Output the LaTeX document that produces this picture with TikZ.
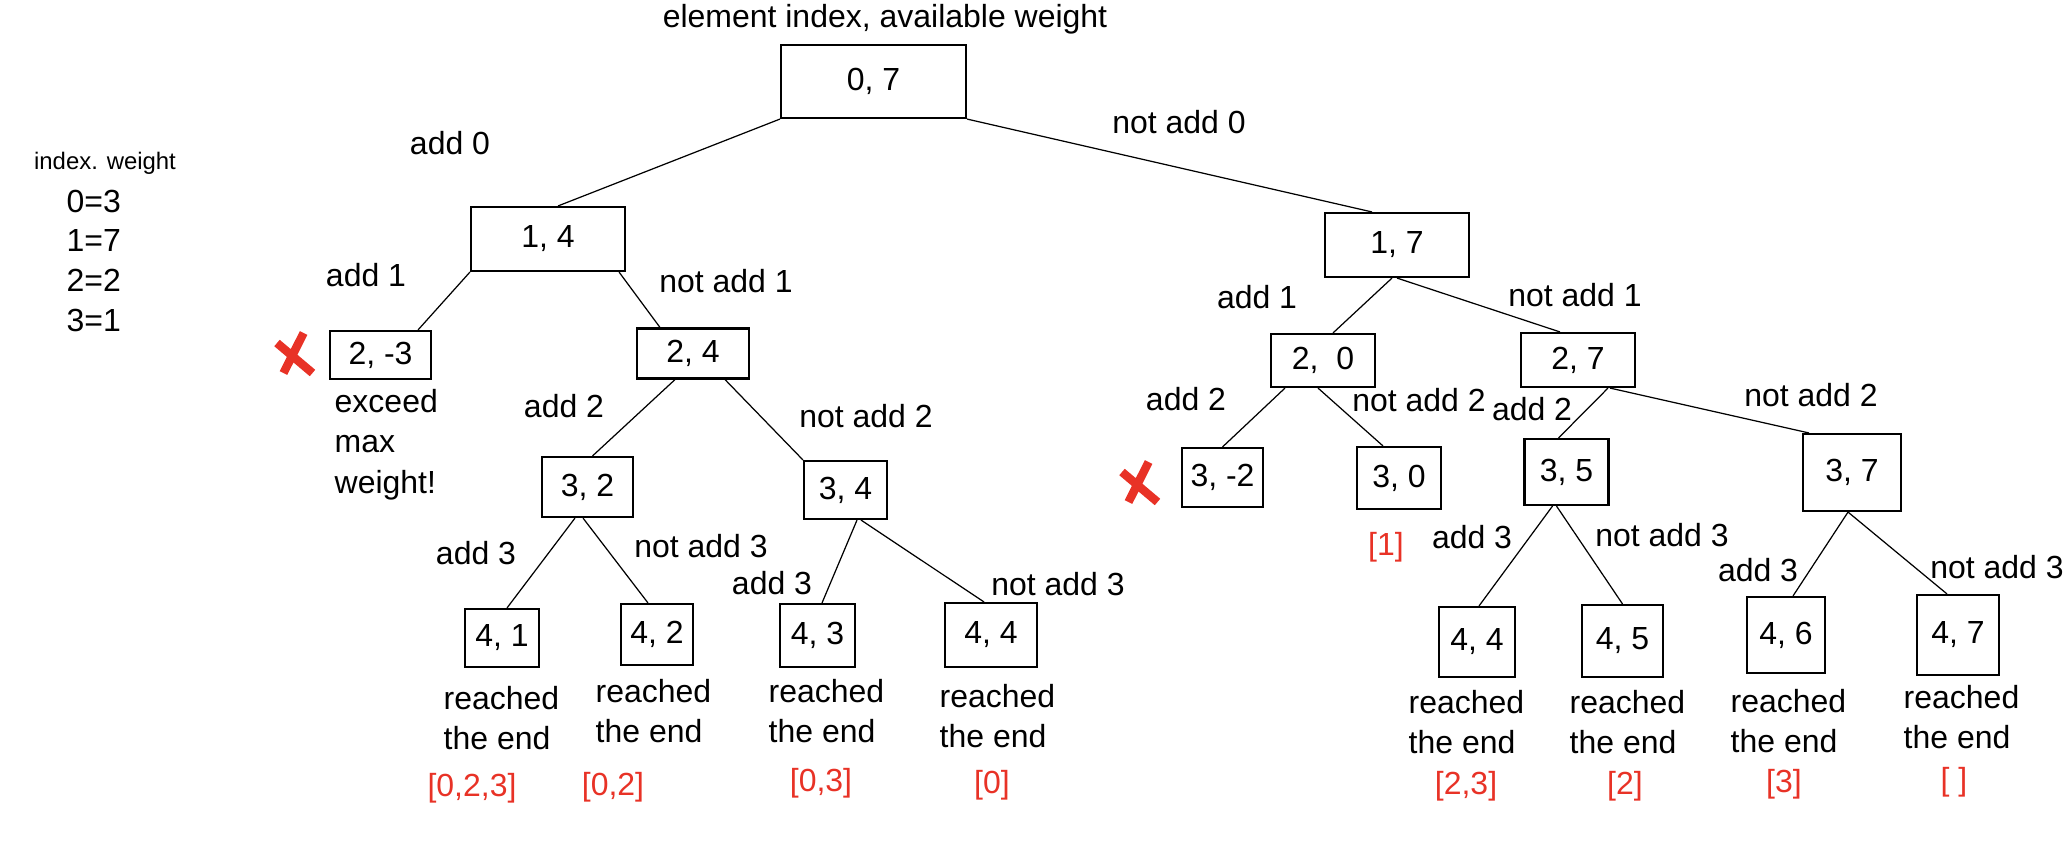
\documentclass[tikz,border=0pt]{standalone}
\usepackage{fontspec}
\setmainfont{Liberation Sans}
\definecolor{markred}{RGB}{232,50,38}

\begin{document}
\begin{tikzpicture}[every node/.style={font=\fontsize{9.1}{11.4}\selectfont, inner sep=0pt},
	statebox/.style 2 args={draw, line width=0.6pt, minimum width=#1cm, minimum height=#2cm},
	branch/.style={line width=0.35pt},
	result/.style={text=markred},
	endnote/.style={align=left, anchor=north west},
	failmark/.pic={\draw[markred, line width=2.4pt] (0.086,0.22) -- (-0.115,-0.18) (-0.18,0.12) -- (0.175,-0.18);}]
	\useasboundingbox (0,0) rectangle (20.64,-8.42);
	\node (title) at (8.85,-0.19) {element index, available weight};
	\node[font=\fontsize{6.8}{8}\selectfont] (legend) at (1.05,-1.63) {index. weight};
	\foreach \i/\w [count=\k] in {0/3,1/7,2/2,3/1} {\node[anchor=west] (w\i) at (0.66,{-2.01-0.397*(\k-1)}) {\i=\w};}
	\node[statebox={1.85}{0.73}] (s07) at (8.735,-0.815) {0, 7};
	\node[statebox={1.54}{0.64}] (s14) at (5.48,-2.39) {1, 4\hspace{5mm}};
	\node[statebox={1.44}{0.64}] (s17) at (13.97,-2.45) {1, 7\hspace{3.4mm}};
	\node[statebox={1.01}{0.48}] (s2neg3) at (3.805,-3.55) {2, -3};
	\node[statebox={1.12}{0.50}] (s24) at (6.93,-3.535) {2, 4\hspace{1.2mm}};
	\node[statebox={1.04}{0.53}] (s20) at (13.23,-3.605) {2,\ \ 0\hspace{1.4mm}};
	\node[statebox={1.14}{0.54}] (s27) at (15.78,-3.60) {2, 7\hspace{3.4mm}};
	\node[statebox={0.91}{0.60}] (s32) at (5.875,-4.87) {3, 2};
	\node[statebox={0.83}{0.58}] (s34) at (8.455,-4.90) {3, 4};
	\node[statebox={0.81}{0.59}] (s3neg2) at (12.225,-4.775) {3, -2\hspace{1.2mm}};
	\node[statebox={0.84}{0.62}] (s30) at (13.99,-4.78) {3, 0};
	\node[statebox={0.84}{0.66}] (s35) at (15.665,-4.72) {3, 5};
	\node[statebox={0.98}{0.77}] (s37) at (18.52,-4.725) {3, 7};
	\node[statebox={0.74}{0.58}] (s41) at (5.02,-6.38) {4, 1};
	\node[statebox={0.72}{0.61}] (s42) at (6.57,-6.345) {4, 2};
	\node[statebox={0.75}{0.63}] (s43) at (8.175,-6.355) {4, 3};
	\node[statebox={0.92}{0.64}] (s44) at (9.91,-6.35) {4, 4};
	\node[statebox={0.76}{0.70}] (s44r) at (14.77,-6.42) {4, 4};
	\node[statebox={0.81}{0.72}] (s45) at (16.225,-6.41) {4, 5};
	\node[statebox={0.78}{0.76}] (s46) at (17.86,-6.35) {4, 6};
	\node[statebox={0.82}{0.80}] (s47) at (19.58,-6.35) {4, 7};
	\draw[branch] (s07.south west) -- ([xshift=0.10cm]s14.north);
	\draw[branch] (s07.south east) -- ([xshift=-0.25cm]s17.north);
	\draw[branch] (s14.south west) -- ([xshift=0.375cm]s2neg3.north);
	\draw[branch] ([xshift=-0.07cm]s14.south east) -- ([xshift=-0.33cm]s24.north);
	\draw[branch] ([xshift=-0.18cm]s24.south) -- ([xshift=0.05cm]s32.north);
	\draw[branch] ([xshift=0.32cm]s24.south) -- (s34.north west);
	\draw[branch] ([xshift=-0.125cm]s32.south) -- ([xshift=0.05cm]s41.north);
	\draw[branch] ([xshift=-0.045cm]s32.south) -- ([xshift=-0.09cm]s42.north);
	\draw[branch] ([xshift=0.115cm]s34.south) -- ([xshift=0.045cm]s43.north);
	\draw[branch] ([xshift=0.155cm]s34.south) -- ([xshift=-0.07cm]s44.north);
	\draw[branch] ([xshift=-0.05cm]s17.south) -- ([xshift=0.10cm]s20.north);
	\draw[branch] (s17.south) -- ([xshift=-0.18cm]s27.north);
	\draw[branch] ([xshift=-0.38cm]s20.south) -- (s3neg2.north);
	\draw[branch] ([xshift=-0.05cm]s20.south) -- ([xshift=-0.16cm]s30.north);
	\draw[branch] ([xshift=0.30cm]s27.south) -- ([xshift=-0.08cm]s35.north);
	\draw[branch] ([xshift=0.32cm]s27.south) -- ([xshift=0.07cm]s37.north west);
	\draw[branch] ([xshift=-0.14cm]s35.south) -- ([xshift=0.02cm]s44r.north);
	\draw[branch] ([xshift=-0.10cm]s35.south) -- (s45.north);
	\draw[branch] ([xshift=-0.04cm]s37.south) -- ([xshift=0.07cm]s46.north);
	\draw[branch] ([xshift=-0.04cm]s37.south) -- ([xshift=-0.11cm]s47.north);
	\node (a0) at (4.50,-1.43) {add 0};
	\node (na0) at (11.79,-1.22) {not add 0};
	\node (a1l) at (3.66,-2.75) {add 1};
	\node (na1l) at (7.26,-2.81) {not add 1};
	\node (a1r) at (12.57,-2.97) {add 1};
	\node (na1r) at (15.75,-2.95) {not add 1};
	\node (a2l) at (5.64,-4.06) {add 2};
	\node (na2l) at (8.66,-4.16) {not add 2};
	\node (a2m) at (11.86,-3.99) {add 2};
	\node (na2m) at (14.19,-4.00) {not add 2};
	\node (a2r) at (15.32,-4.09) {add 2};
	\node (na2r) at (18.11,-3.95) {not add 2};
	\node (a3a) at (4.76,-5.53) {add 3};
	\node (na3a) at (7.01,-5.46) {not add 3};
	\node (a3b) at (7.72,-5.83) {add 3};
	\node (na3b) at (10.58,-5.84) {not add 3};
	\node (a3c) at (14.72,-5.37) {add 3};
	\node (na3c) at (16.62,-5.35) {not add 3};
	\node (a3d) at (17.58,-5.70) {add 3};
	\node (na3d) at (19.97,-5.67) {not add 3};
	\node[anchor=north west, align=left] (note) at (3.34,-3.89) {exceed\\max\\weight!};
	\pic at (2.95,-3.55) {failmark};
	\pic at (11.40,-4.84) {failmark};
	\node[result] (res30) at (13.86,-5.47) {[1]};
	\foreach \n/\x/\y in {41/4.43/-6.86, 42/5.95/-6.79, 43/7.68/-6.79, 44/9.39/-6.84, 44r/14.08/-6.90, 45/15.69/-6.90, 46/17.30/-6.89, 47/19.03/-6.85}
		{\node[endnote] (r\n) at (\x,\y) {reached\\the end};}
	\node[result] (res41) at (4.72,-7.88) {[0,2,3]};
	\node[result] (res42) at (6.13,-7.87) {[0,2]};
	\node[result] (res43) at (8.21,-7.83) {[0,3]};
	\node[result] (res44) at (9.92,-7.85) {[0]};
	\node[result] (res44r) at (14.66,-7.86) {[2,3]};
	\node[result] (res45) at (16.25,-7.86) {[2]};
	\node[result] (res46) at (17.84,-7.84) {[3]};
	\node[result] (res47) at (19.54,-7.82) {[ ]};
\end{tikzpicture}
\end{document}
